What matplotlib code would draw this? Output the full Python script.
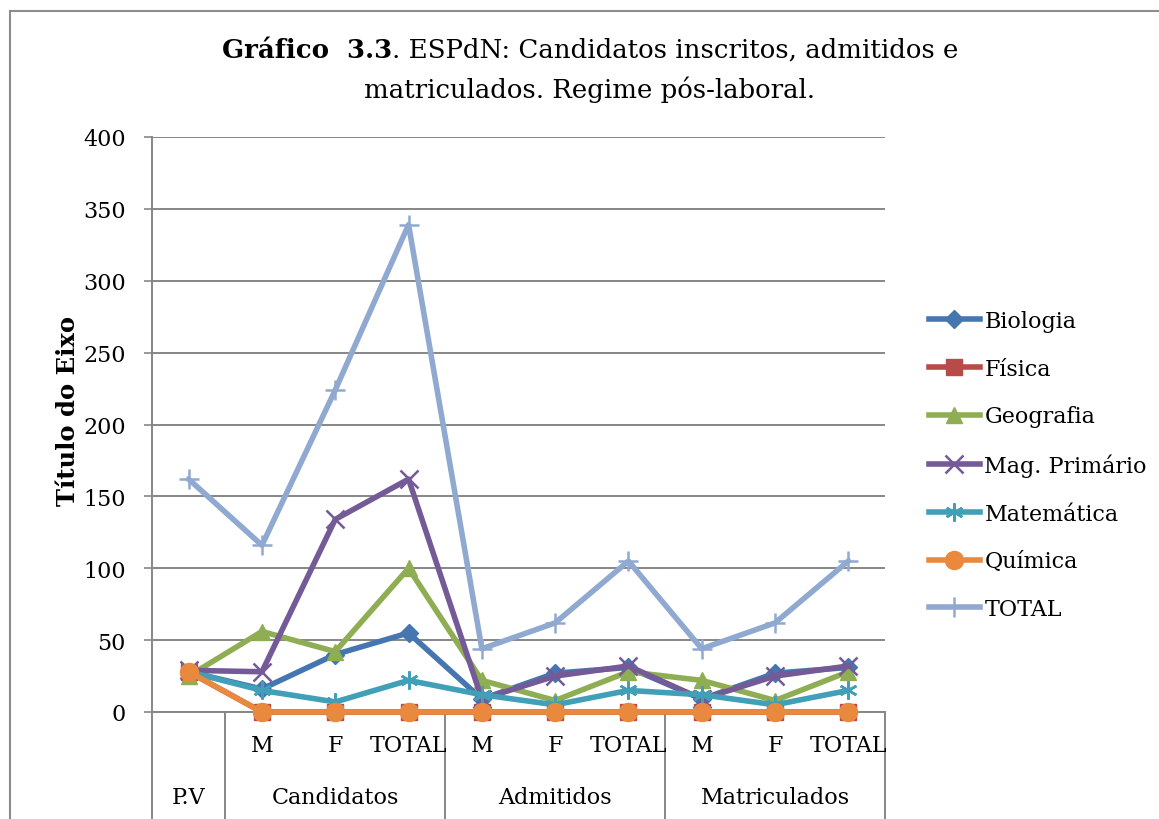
import matplotlib
matplotlib.use('Agg')
import matplotlib.pyplot as plt
from matplotlib.lines import Line2D
import numpy as np

plt.rcParams['font.family'] = ['DejaVu Serif']

# categories (two levels)
sub_labels = ['', 'M', 'F', 'TOTAL', 'M', 'F', 'TOTAL', 'M', 'F', 'TOTAL']
groups = ['P.V', 'Candidatos', 'Admitidos', 'Matriculados']
group_sizes = [1, 3, 3, 3]

# series values
biologia = [28, 16, 40, 55, 9, 27, 31, 9, 27, 31]
fisica = [28, 0, 0, 0, 0, 0, 0, 0, 0, 0]
geografia = [25, 56, 42, 100, 22, 8, 28, 22, 8, 28]
mag_primario = [29, 28, 134, 162, 9, 25, 32, 9, 25, 32]
matematica = [28, 15, 7, 22, 12, 5, 15, 12, 5, 15]
quimica = [28, 0, 0, 0, 0, 0, 0, 0, 0, 0]
total = [162, 116, 224, 339, 44, 62, 105, 44, 62, 105]

series = [
    ('Biologia', biologia, '#4576b0', 'D', 9),
    ('Física', fisica, '#b84a47', 's', 11),
    ('Geografia', geografia, '#8fad52', '^', 11),
    ('Mag. Primário', mag_primario, '#745a96', 'x', 13),
    ('Matemática', matematica, '#419fb7', (6, 2, 0), 13),
    ('Química', quimica, '#e9893d', 'o', 13),
    ('TOTAL', total, '#90a9d0', '+', 15),
]

W, H = 1159, 820
fig = plt.figure(figsize=(W / 100, H / 100), dpi=100)
ax = fig.add_axes([152 / W, 1 - 713 / H, (885 - 152) / W, (713 - 138) / H])

x = np.arange(len(sub_labels))
for name, vals, col, mk, ms in series:
    ax.plot(x, vals, color=col, lw=4, marker=mk, markersize=ms,
            markeredgewidth=1.8 if mk in ('x', '+') or isinstance(mk, tuple) else 1,
            markerfacecolor=col, markeredgecolor=col, label=name, clip_on=False,
            zorder=3)

grid_col = '#868686'
ax.set_xlim(-0.5, len(sub_labels) - 0.5)
ax.set_ylim(0, 400)
ax.set_yticks(np.arange(0, 401, 50))
ax.yaxis.grid(True, color=grid_col, lw=1.4)
ax.set_axisbelow(True)
ax.set_xticks([])
ax.tick_params(axis='y', length=6, color=grid_col, width=1.2, labelsize=16, pad=13)
for s in ['top', 'right']:
    ax.spines[s].set_visible(False)
ax.spines['left'].set_color(grid_col)
ax.spines['bottom'].set_color(grid_col)
ax.spines['left'].set_linewidth(1.4)
ax.spines['bottom'].set_linewidth(1.4)
ax.set_ylabel('Título do Eixo', fontsize=17.5, fontweight='bold')
ax.yaxis.set_label_coords(-0.098, 0.525)

# multi-level category axis
trans = ax.get_xaxis_transform()
for i, lab in enumerate(sub_labels):
    ax.text(i, -0.058, lab, transform=trans, ha='center', va='center', fontsize=16)
start = 0
bounds = [-0.5]
for g, n in zip(groups, group_sizes):
    ax.text(start + (n - 1) / 2, -0.147, g, transform=trans, ha='center',
            va='center', fontsize=16)
    start += n
    bounds.append(start - 0.5)
for b in bounds:
    ax.add_line(Line2D([b, b], [0, -0.2], transform=trans, color=grid_col,
                       lw=1.4, clip_on=False))

# outer chart frame (left and top edges visible)
fig.add_artist(Line2D([10 / W, 10 / W], [0, 1 - 12 / H], color='#8c8c8c', lw=1.5))
fig.add_artist(Line2D([10 / W, 1], [1 - 12 / H, 1 - 12 / H], color='#8c8c8c', lw=1.5))

# title, bold prefix + normal text
fig.canvas.draw()
r = fig.canvas.get_renderer()
t1 = fig.text(0, 1 - 50 / H, 'Gráfico  3.3', fontsize=18.7, fontweight='bold', va='center')
t2 = fig.text(0, 1 - 50 / H, '. ESPdN: Candidatos inscritos, admitidos e', fontsize=18.7, va='center')
w1 = t1.get_window_extent(r).width
w2 = t2.get_window_extent(r).width
x0 = 590 - (w1 + w2) / 2
t1.set_x(x0 / W)
t2.set_x((x0 + w1) / W)
fig.text(590 / W, 1 - 90 / H, 'matriculados. Regime pós-laboral.', fontsize=18.7,
         ha='center', va='center')

fig.legend(loc='center left', bbox_to_anchor=(920 / W, 1 - 466 / H), frameon=False,
           fontsize=16, handlelength=2.3, handletextpad=0.2, labelspacing=1.16,
           borderaxespad=0)

fig.savefig('out.png', dpi=100)
